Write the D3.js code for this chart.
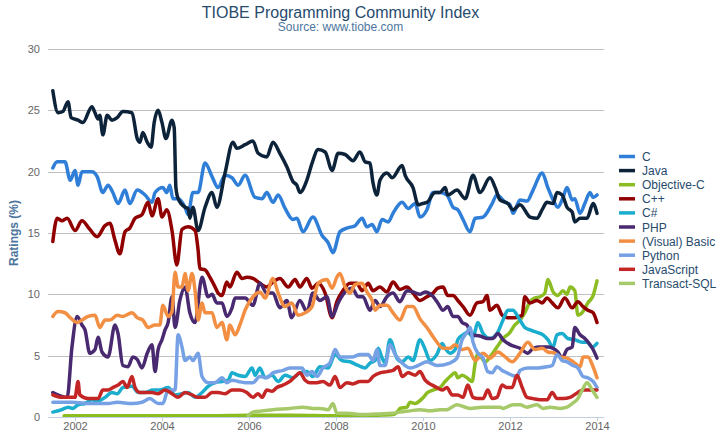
<!DOCTYPE html>
<html><head><meta charset="utf-8">
<script src="https://cdn.jsdelivr.net/npm/d3@7"></script>
<style>body{margin:0;background:#fff;} text{font-family:"Liberation Sans",Arial,Helvetica,sans-serif;}</style>
</head><body><svg id="chart" width="721" height="434"></svg>
<script>
const titleText = "TIOBE Programming Community Index";
const subtitleText = "Source: www.tiobe.com";
const yTitle = "Ratings (%)";
const seriesNames = ["C","Java","Objective-C","C++","C#","PHP","(Visual) Basic","Python","JavaScript","Transact-SQL"];
const seriesColors = ["#2f7ed8","#0d233a","#8bbc21","#910000","#1aadce","#492970","#f28f43","#77a1e5","#c42525","#a6c96a"];
const yTicks = [0,5,10,15,20,25,30];
const xTicks = [2002,2004,2006,2008,2010,2012,2014];

// [decimal year, rating %]
const cData = [[2001.49,20.3],[2001.59,20.8],[2001.77,20.8],[2001.89,19.3],[2002.00,20.1],[2002.07,18.9],[2002.16,20.0],[2002.39,20.0],[2002.51,19.6],[2002.64,18.3],[2002.76,18.9],[2002.87,18.3],[2002.99,17.4],[2003.15,18.5],[2003.26,17.4],[2003.43,18.5],[2003.61,18.1],[2003.77,17.5],[2003.84,18.3],[2004.02,18.7],[2004.11,18.3],[2004.18,18.9],[2004.25,17.8],[2004.37,17.8],[2004.53,17.1],[2004.60,16.5],[2004.71,18.3],[2004.83,18.3],[2004.99,20.7],[2005.15,19.6],[2005.29,18.7],[2005.45,19.7],[2005.61,19.5],[2005.75,18.9],[2005.91,19.7],[2006.14,17.9],[2006.30,17.8],[2006.41,18.3],[2006.55,17.5],[2006.67,18.1],[2006.83,17.0],[2007.01,16.1],[2007.10,16.2],[2007.24,15.1],[2007.47,16.3],[2007.68,14.8],[2007.82,14.2],[2007.93,13.4],[2008.09,15.1],[2008.25,15.4],[2008.44,15.6],[2008.60,16.2],[2008.71,15.5],[2008.83,15.7],[2008.94,15.1],[2009.06,16.1],[2009.20,15.9],[2009.31,16.6],[2009.52,17.5],[2009.66,17.0],[2009.82,17.4],[2009.93,16.3],[2010.09,16.9],[2010.23,18.3],[2010.39,18.3],[2010.55,18.1],[2010.69,17.1],[2010.80,16.9],[2010.92,16.1],[2011.08,15.1],[2011.20,16.2],[2011.38,16.3],[2011.59,17.4],[2011.70,18.1],[2011.89,17.5],[2012.00,17.3],[2012.07,16.6],[2012.23,17.7],[2012.39,17.6],[2012.53,18.5],[2012.74,19.9],[2012.87,18.7],[2012.99,17.7],[2013.10,17.1],[2013.22,17.9],[2013.31,18.7],[2013.43,17.7],[2013.49,17.8],[2013.61,16.6],[2013.72,17.4],[2013.84,18.3],[2013.91,17.9],[2014.00,18.1]];
const javaData = [[2001.49,26.6],[2001.61,24.8],[2001.72,24.9],[2001.84,25.7],[2001.91,24.4],[2002.07,24.2],[2002.18,24.0],[2002.39,25.3],[2002.46,24.8],[2002.53,24.3],[2002.57,24.6],[2002.64,23.0],[2002.74,24.6],[2002.85,24.2],[2002.97,24.4],[2003.10,24.9],[2003.31,24.8],[2003.43,22.7],[2003.49,22.4],[2003.56,23.2],[2003.66,22.4],[2003.75,22.0],[2003.82,24.0],[2003.91,25.0],[2004.00,24.0],[2004.09,22.7],[2004.23,24.2],[2004.28,23.6],[2004.32,18.7],[2004.37,17.8],[2004.53,17.1],[2004.60,17.0],[2004.64,16.2],[2004.71,17.1],[2004.83,15.2],[2004.99,17.1],[2005.15,18.3],[2005.26,17.1],[2005.45,19.9],[2005.63,22.4],[2005.72,21.9],[2005.91,22.2],[2006.09,22.5],[2006.21,21.5],[2006.41,21.2],[2006.55,22.4],[2006.71,21.5],[2006.87,20.4],[2007.01,19.2],[2007.10,18.9],[2007.17,18.3],[2007.33,19.3],[2007.45,20.7],[2007.59,21.8],[2007.75,21.6],[2007.91,20.1],[2008.05,21.5],[2008.21,21.4],[2008.39,20.9],[2008.55,21.6],[2008.67,20.8],[2008.78,20.7],[2008.85,19.1],[2008.94,18.1],[2009.01,19.3],[2009.17,19.9],[2009.29,19.5],[2009.52,20.5],[2009.59,19.7],[2009.77,18.7],[2009.89,17.3],[2009.98,17.4],[2010.09,17.5],[2010.28,18.3],[2010.39,18.3],[2010.51,18.7],[2010.57,18.1],[2010.78,18.5],[2010.97,17.8],[2011.15,19.7],[2011.31,18.3],[2011.54,19.5],[2011.66,18.7],[2011.77,17.7],[2011.95,17.4],[2012.07,16.9],[2012.23,17.3],[2012.46,16.3],[2012.62,16.2],[2012.74,16.9],[2012.85,17.5],[2012.99,17.4],[2013.08,18.3],[2013.20,18.1],[2013.31,17.1],[2013.43,16.7],[2013.49,15.9],[2013.61,16.2],[2013.77,16.2],[2013.91,17.4],[2014.00,16.6]];
const objcData = [[2001.75,0.1],[2003.0,0.1],[2004.0,0.1],[2005.0,0.1],[2006.0,0.15],[2007.0,0.15],[2008.0,0.1],[2009.0,0.15],[2009.31,0.2],[2009.43,0.5],[2009.47,0.7],[2009.63,0.8],[2009.70,1.2],[2009.82,1.1],[2009.98,1.5],[2010.11,2.0],[2010.23,2.2],[2010.39,2.4],[2010.51,2.9],[2010.62,3.3],[2010.74,3.6],[2010.80,3.2],[2010.90,3.4],[2011.01,3.2],[2011.13,2.9],[2011.20,4.4],[2011.26,5.2],[2011.43,4.5],[2011.54,4.9],[2011.70,5.7],[2011.84,6.4],[2012.00,6.9],[2012.11,7.5],[2012.23,7.9],[2012.34,8.5],[2012.46,9.4],[2012.57,9.7],[2012.69,9.8],[2012.80,10.1],[2012.87,11.2],[2012.99,10.2],[2013.10,9.9],[2013.22,10.3],[2013.31,10.0],[2013.38,10.6],[2013.49,10.3],[2013.56,8.3],[2013.68,8.6],[2013.79,9.3],[2013.91,9.9],[2014.00,11.1]];
const cppData = [[2001.49,14.3],[2001.59,16.2],[2001.70,16.0],[2001.82,16.2],[2002.00,15.2],[2002.16,16.0],[2002.34,15.3],[2002.51,14.7],[2002.69,15.6],[2002.80,15.8],[2002.92,14.4],[2003.03,13.3],[2003.15,15.1],[2003.26,15.4],[2003.38,16.2],[2003.54,16.5],[2003.68,17.5],[2003.77,16.4],[2003.91,17.8],[2004.00,16.3],[2004.11,16.9],[2004.23,15.2],[2004.34,12.4],[2004.46,15.3],[2004.60,15.5],[2004.76,15.2],[2004.83,13.6],[2004.87,12.1],[2004.99,12.0],[2005.10,11.4],[2005.22,10.6],[2005.29,10.1],[2005.38,9.9],[2005.49,11.0],[2005.56,10.6],[2005.72,11.8],[2005.84,11.3],[2005.95,11.4],[2006.09,11.3],[2006.25,10.9],[2006.41,10.6],[2006.55,11.0],[2006.71,11.3],[2006.90,10.6],[2007.06,11.2],[2007.17,10.6],[2007.33,11.3],[2007.45,10.5],[2007.59,10.9],[2007.75,10.1],[2007.91,8.1],[2008.02,9.4],[2008.16,10.3],[2008.32,10.9],[2008.48,10.9],[2008.60,10.3],[2008.74,10.9],[2008.85,10.3],[2009.01,10.6],[2009.17,10.2],[2009.31,11.0],[2009.47,10.4],[2009.63,10.6],[2009.77,10.1],[2009.93,9.5],[2010.09,9.8],[2010.23,10.1],[2010.34,10.5],[2010.46,10.6],[2010.57,9.9],[2010.69,9.9],[2010.80,9.5],[2010.92,9.0],[2011.08,8.3],[2011.24,9.3],[2011.38,9.4],[2011.47,9.9],[2011.54,8.7],[2011.70,9.1],[2011.82,8.3],[2011.95,8.1],[2012.11,8.1],[2012.28,8.3],[2012.34,9.8],[2012.46,9.3],[2012.62,9.5],[2012.74,9.3],[2012.85,9.7],[2012.97,9.3],[2013.10,8.9],[2013.26,9.7],[2013.43,8.9],[2013.56,9.4],[2013.68,9.0],[2013.79,8.7],[2013.91,8.5],[2014.00,7.7]];
const csharpData = [[2001.49,0.4],[2001.70,0.6],[2001.84,0.8],[2001.95,0.7],[2002.07,1.0],[2002.23,1.1],[2002.39,1.4],[2002.53,1.3],[2002.69,1.6],[2002.85,2.0],[2002.97,1.9],[2003.10,2.4],[2003.31,2.5],[2003.45,2.0],[2003.61,2.0],[2003.79,2.2],[2003.95,2.2],[2004.14,2.4],[2004.30,1.8],[2004.46,1.9],[2004.60,2.0],[2004.76,1.6],[2004.92,2.0],[2005.06,2.5],[2005.22,2.8],[2005.38,2.9],[2005.52,3.0],[2005.61,3.6],[2005.75,3.4],[2005.91,3.3],[2006.07,4.0],[2006.14,3.4],[2006.25,4.0],[2006.37,3.2],[2006.53,3.4],[2006.67,2.9],[2006.83,3.4],[2007.01,3.2],[2007.17,3.6],[2007.33,3.7],[2007.47,3.3],[2007.63,4.1],[2007.82,4.0],[2007.98,5.1],[2008.14,4.6],[2008.32,4.5],[2008.51,4.2],[2008.67,4.0],[2008.78,4.4],[2008.90,4.6],[2008.97,5.6],[2009.06,4.8],[2009.13,4.4],[2009.24,6.3],[2009.40,4.8],[2009.52,4.5],[2009.66,4.9],[2009.77,4.6],[2009.93,6.3],[2010.05,5.5],[2010.16,4.6],[2010.32,5.1],[2010.44,6.0],[2010.51,5.6],[2010.62,5.2],[2010.74,5.5],[2010.80,6.3],[2010.92,6.7],[2011.03,6.9],[2011.15,6.5],[2011.26,7.7],[2011.38,6.8],[2011.54,6.4],[2011.70,6.8],[2011.84,7.9],[2011.95,8.7],[2012.07,8.7],[2012.18,8.2],[2012.34,7.3],[2012.46,7.1],[2012.62,6.9],[2012.76,6.7],[2012.87,6.3],[2012.99,5.7],[2013.08,6.7],[2013.20,6.8],[2013.33,6.4],[2013.49,6.3],[2013.66,6.1],[2013.77,6.1],[2013.89,5.7],[2014.00,6.0]];
const phpData = [[2001.49,2.0],[2001.82,1.6],[2001.93,5.7],[2002.05,8.2],[2002.16,7.5],[2002.23,7.1],[2002.34,5.2],[2002.46,5.5],[2002.53,6.5],[2002.62,5.3],[2002.76,4.9],[2002.92,7.5],[2002.99,6.8],[2003.10,4.2],[2003.22,4.1],[2003.33,4.9],[2003.43,4.7],[2003.54,4.0],[2003.66,5.2],[2003.77,5.9],[2003.84,3.7],[2003.91,5.5],[2004.00,6.3],[2004.07,7.1],[2004.14,7.7],[2004.23,9.8],[2004.30,7.3],[2004.41,9.5],[2004.53,10.6],[2004.64,8.5],[2004.76,7.7],[2004.92,11.4],[2005.06,9.8],[2005.15,10.0],[2005.26,9.3],[2005.38,9.3],[2005.49,8.2],[2005.61,8.9],[2005.68,9.7],[2005.91,9.7],[2006.09,9.1],[2006.25,10.9],[2006.41,10.1],[2006.55,10.1],[2006.71,8.9],[2006.87,9.5],[2006.98,8.1],[2007.17,9.5],[2007.33,8.6],[2007.47,10.1],[2007.63,9.5],[2007.79,9.8],[2007.91,8.2],[2008.05,9.3],[2008.21,10.2],[2008.37,10.5],[2008.51,9.8],[2008.62,9.8],[2008.78,8.7],[2008.90,9.5],[2009.01,9.0],[2009.17,9.8],[2009.31,10.1],[2009.47,9.4],[2009.63,10.3],[2009.77,10.2],[2009.93,10.0],[2010.05,10.2],[2010.21,9.9],[2010.34,9.3],[2010.46,8.7],[2010.57,9.0],[2010.69,8.2],[2010.80,8.2],[2010.90,7.7],[2011.01,7.5],[2011.13,6.7],[2011.31,6.6],[2011.47,6.4],[2011.61,6.4],[2011.72,6.8],[2011.84,6.3],[2012.00,5.9],[2012.23,5.6],[2012.41,5.2],[2012.53,5.6],[2012.69,5.7],[2012.87,5.7],[2012.99,5.6],[2013.10,5.3],[2013.20,4.8],[2013.31,5.5],[2013.43,5.7],[2013.49,7.3],[2013.61,6.7],[2013.72,6.4],[2013.84,5.9],[2013.91,5.5],[2014.00,4.8]];
const basicData = [[2001.49,8.2],[2001.61,8.6],[2001.77,8.5],[2001.89,8.1],[2002.05,7.7],[2002.16,7.9],[2002.30,8.2],[2002.46,8.3],[2002.57,7.3],[2002.69,7.9],[2002.80,7.9],[2002.97,8.3],[2003.10,8.2],[2003.31,8.5],[2003.43,8.1],[2003.56,7.9],[2003.68,7.3],[2003.84,7.5],[2003.95,7.5],[2004.02,9.1],[2004.14,8.2],[2004.23,8.6],[2004.30,11.8],[2004.37,10.6],[2004.46,10.6],[2004.53,11.7],[2004.60,10.3],[2004.69,11.7],[2004.76,10.3],[2004.83,7.9],[2004.92,9.3],[2004.99,8.5],[2005.15,8.5],[2005.26,7.3],[2005.38,7.7],[2005.49,6.3],[2005.56,7.5],[2005.68,6.7],[2005.79,7.5],[2005.91,8.7],[2006.09,9.8],[2006.25,10.2],[2006.37,9.7],[2006.55,11.3],[2006.67,10.1],[2006.83,9.0],[2006.98,9.3],[2007.13,8.3],[2007.29,8.5],[2007.45,9.0],[2007.59,10.9],[2007.79,11.2],[2007.91,10.5],[2008.02,11.4],[2008.09,11.7],[2008.21,10.6],[2008.32,10.1],[2008.44,10.8],[2008.60,10.9],[2008.71,10.2],[2008.83,9.5],[2008.90,8.7],[2009.01,9.1],[2009.17,9.1],[2009.31,8.5],[2009.47,7.9],[2009.63,9.0],[2009.77,9.0],[2009.93,8.0],[2010.09,7.3],[2010.28,6.3],[2010.46,5.6],[2010.62,5.6],[2010.74,5.9],[2010.90,5.5],[2011.03,5.6],[2011.20,4.6],[2011.38,5.2],[2011.54,4.8],[2011.72,5.3],[2011.89,4.9],[2012.05,4.5],[2012.23,5.2],[2012.41,6.1],[2012.57,5.5],[2012.74,5.6],[2012.87,5.3],[2013.03,5.2],[2013.15,4.9],[2013.31,4.8],[2013.45,4.5],[2013.61,4.1],[2013.68,4.9],[2013.79,4.9],[2013.91,4.1],[2014.00,3.2]];
const pythonData = [[2001.49,1.2],[2001.93,1.2],[2002.39,1.1],[2002.76,1.1],[2002.97,1.2],[2003.31,1.1],[2003.54,1.2],[2003.72,1.5],[2003.91,1.1],[2004.02,1.1],[2004.14,2.2],[2004.30,2.2],[2004.37,6.7],[2004.46,5.7],[2004.53,4.6],[2004.64,4.9],[2004.71,4.6],[2004.83,5.2],[2004.92,3.3],[2005.06,2.8],[2005.22,2.8],[2005.38,3.2],[2005.49,2.8],[2005.61,3.0],[2005.75,2.9],[2005.91,2.8],[2006.09,2.8],[2006.25,3.3],[2006.41,3.2],[2006.55,3.6],[2006.78,3.8],[2006.94,4.0],[2007.22,4.0],[2007.33,3.4],[2007.45,3.7],[2007.56,3.3],[2007.70,4.0],[2007.86,4.4],[2007.98,5.5],[2008.09,4.9],[2008.39,4.9],[2008.55,5.1],[2008.74,5.1],[2008.85,4.6],[2008.94,5.5],[2009.01,4.2],[2009.13,4.2],[2009.24,5.9],[2009.36,5.1],[2009.52,4.4],[2009.70,4.0],[2009.89,4.2],[2010.09,4.5],[2010.32,4.2],[2010.62,4.4],[2010.78,4.8],[2010.90,6.3],[2011.01,6.9],[2011.08,7.3],[2011.15,6.1],[2011.26,5.2],[2011.38,4.8],[2011.49,3.7],[2011.59,3.6],[2011.70,4.1],[2011.82,3.8],[2011.93,3.6],[2012.05,3.4],[2012.16,3.3],[2012.23,3.8],[2012.41,4.0],[2012.64,4.0],[2012.85,4.1],[2012.97,4.2],[2013.08,5.1],[2013.20,4.6],[2013.31,4.5],[2013.45,4.2],[2013.56,4.0],[2013.68,3.3],[2013.79,3.2],[2013.91,2.9],[2014.00,2.4]];
const jsData = [[2001.49,1.8],[2001.70,1.6],[2002.00,1.6],[2002.07,2.9],[2002.11,1.8],[2002.30,1.5],[2002.53,1.5],[2002.64,2.2],[2002.76,2.2],[2002.87,2.4],[2002.99,2.6],[2003.10,2.9],[2003.20,2.4],[2003.31,3.3],[2003.38,2.4],[2003.49,2.0],[2003.61,2.0],[2003.77,2.0],[2003.91,1.9],[2004.07,2.2],[2004.23,1.9],[2004.37,1.6],[2004.53,2.0],[2004.69,1.8],[2004.83,1.6],[2004.99,1.6],[2005.15,2.0],[2005.29,2.0],[2005.45,1.9],[2005.61,2.2],[2005.79,2.2],[2005.95,2.0],[2006.09,1.6],[2006.21,1.9],[2006.30,1.6],[2006.41,2.2],[2006.53,2.1],[2006.64,2.4],[2006.78,2.6],[2006.94,2.9],[2007.06,3.3],[2007.17,3.6],[2007.29,3.0],[2007.40,2.8],[2007.56,2.8],[2007.70,2.9],[2007.86,2.6],[2007.98,3.3],[2008.09,2.4],[2008.25,2.8],[2008.39,2.7],[2008.55,2.9],[2008.74,2.9],[2008.85,3.3],[2009.01,3.6],[2009.17,3.7],[2009.31,3.8],[2009.43,4.1],[2009.52,3.3],[2009.66,3.6],[2009.82,3.4],[2009.93,3.7],[2010.05,3.0],[2010.21,2.6],[2010.32,2.4],[2010.44,2.2],[2010.55,2.4],[2010.67,1.8],[2010.80,1.8],[2010.92,1.6],[2011.03,2.6],[2011.15,1.6],[2011.26,1.5],[2011.38,1.5],[2011.49,2.2],[2011.59,1.5],[2011.70,1.6],[2011.82,2.6],[2011.93,2.4],[2012.05,2.4],[2012.16,3.4],[2012.28,2.4],[2012.39,1.6],[2012.53,1.5],[2012.69,1.4],[2012.85,1.4],[2012.97,2.0],[2013.08,1.5],[2013.22,1.5],[2013.38,1.6],[2013.56,2.0],[2013.68,2.2],[2013.84,2.2],[2014.00,2.2]];
const tsqlData = [[2005.98,0.1],[2006.09,0.4],[2006.30,0.5],[2006.55,0.6],[2006.94,0.7],[2007.24,0.8],[2007.47,0.7],[2007.63,0.7],[2007.82,0.6],[2007.93,1.1],[2008.02,0.3],[2008.25,0.3],[2008.62,0.2],[2009.01,0.25],[2009.29,0.3],[2009.47,0.4],[2009.70,0.5],[2009.93,0.6],[2010.16,0.5],[2010.39,0.6],[2010.55,0.6],[2010.78,1.0],[2010.97,0.8],[2011.08,0.7],[2011.38,0.8],[2011.77,0.8],[2011.84,0.7],[2012.07,1.0],[2012.23,1.0],[2012.39,0.8],[2012.62,1.0],[2012.76,0.7],[2012.92,0.8],[2013.15,0.7],[2013.31,0.8],[2013.43,1.1],[2013.56,1.5],[2013.66,2.2],[2013.77,2.8],[2013.89,2.2],[2014.00,1.6]];

const seriesData = [cData, javaData, objcData, cppData, csharpData, phpData, basicData, pythonData, jsData, tsqlData];

const W = 721, H = 434;
const plotL = 48, plotR = 604, plotT = 49, plotB = 417;
const svg = d3.select('#chart');
svg.append('rect').attr('width', W).attr('height', H).attr('fill', '#fff');

const x = d3.scaleLinear().domain([2002, 2014]).range([75, 597]);
const y = d3.scaleLinear().domain([0, 30]).range([plotB, plotT]);

// y grid + labels
const yAxis = d3.axisLeft(y).tickValues(yTicks).tickSize(-(plotR - plotL)).tickPadding(8).tickFormat(d3.format('d'));
const gy = svg.append('g').attr('transform', `translate(${plotL},0)`).call(yAxis);
gy.select('.domain').remove();
gy.selectAll('.tick line').attr('stroke', '#C0C0C0').attr('stroke-width', 1).attr('shape-rendering', 'crispEdges');
gy.selectAll('.tick text').attr('fill', '#666').style('font-size', '11px');

// x axis
const xAxis = d3.axisBottom(x).tickValues(xTicks).tickSize(4).tickPadding(1).tickFormat(d3.format('d'));
const gx = svg.append('g').attr('transform', `translate(0,${plotB})`).call(xAxis);
gx.select('.domain').remove();
gx.selectAll('.tick line').attr('stroke', '#C0D0E0').attr('shape-rendering', 'crispEdges');
gx.selectAll('.tick text').attr('fill', '#666').style('font-size', '11px');
svg.append('line').attr('x1', plotL).attr('x2', plotR).attr('y1', plotB + 0.5).attr('y2', plotB + 0.5)
  .attr('stroke', '#C0D0E0').attr('stroke-width', 1);

// clip
svg.append('clipPath').attr('id', 'clip').append('rect')
  .attr('x', plotL).attr('y', plotT - 5).attr('width', plotR - plotL).attr('height', plotB - plotT + 5);

const line = d3.line().x(d => x(d[0])).y(d => y(d[1])).curve(d3.curveMonotoneX);
const gLines = svg.append('g').attr('clip-path', 'url(#clip)');
seriesData.forEach((data, i) => {
  gLines.append('path').datum(data).attr('d', line)
    .attr('fill', 'none').attr('stroke', seriesColors[i]).attr('stroke-width', 3.5)
    .attr('stroke-linejoin', 'round').attr('stroke-linecap', 'round');
});

// titles
svg.append('text').attr('x', 340.5).attr('y', 18).attr('text-anchor', 'middle')
  .attr('fill', '#274b6d').style('font-size', '16px').text(titleText);
svg.append('text').attr('x', 340.5).attr('y', 31).attr('text-anchor', 'middle')
  .attr('fill', '#4d759e').style('font-size', '12px').text(subtitleText);
svg.append('text').attr('transform', `translate(18,${(plotT + plotB) / 2}) rotate(-90)`)
  .attr('text-anchor', 'middle').attr('fill', '#4d759e').style('font-size', '12px').style('font-weight', 'bold').text(yTitle);

// legend
const leg = svg.append('g').attr('transform', 'translate(619,156.5)');
seriesNames.forEach((name, i) => {
  const g = leg.append('g').attr('transform', `translate(0,${i * 14.1})`);
  g.append('line').attr('x1', 0).attr('x2', 16).attr('y1', 0).attr('y2', 0)
    .attr('stroke', seriesColors[i]).attr('stroke-width', 3.5);
  g.append('text').attr('x', 23).attr('y', 4.5).attr('fill', '#274b6d').style('font-size', '12px').text(name);
});
</script></body></html>
